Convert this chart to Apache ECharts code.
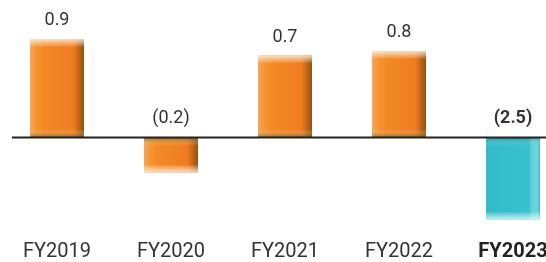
<!DOCTYPE html>
<html>
<head>
<meta charset="utf-8">
<script src="https://cdn.jsdelivr.net/npm/echarts@6/dist/echarts.min.js"></script>
<style>
  html, body { margin: 0; padding: 0; background: #fff; overflow: hidden; }
  #wrap { width: 546px; height: 262px; overflow: hidden; }
  #chart { width: 570px; height: 262px; }
</style>
</head>
<body>
<div id="wrap"><div id="chart"></div></div>
<script>
// 数据
const categories = ['FY2019', 'FY2020', 'FY2021', 'FY2022', 'FY2023']
const valueLabels = ['0.9', '(0.2)', '0.7', '0.8', '(2.5)']
// 图中柱子的长度（图示并非按比例绘制，按图片读取）
const barLengths = [0.9, -0.32, 0.75, 0.79, -0.75]
const highlightIndex = 4

const orangeFill = {
  type: 'linear', x: 0, y: 0, x2: 1, y2: 0,
  colorStops: [
    { offset: 0, color: '#f6a65a' },
    { offset: 0.12, color: '#f59530' },
    { offset: 0.25, color: '#f38a25' },
    { offset: 0.8, color: '#ef7c20' },
    { offset: 0.88, color: '#cf6a1a' },
    { offset: 1, color: '#8c5412' }
  ]
}
const tealFill = {
  type: 'linear', x: 0, y: 0, x2: 1, y2: 0,
  colorStops: [
    { offset: 0, color: '#33bcc7' },
    { offset: 0.8, color: '#37c1cc' },
    { offset: 0.84, color: '#62d0d8' },
    { offset: 0.95, color: '#6fd5dc' },
    { offset: 1, color: '#3cbcc6' }
  ]
}

// 斜面高光：顶部亮，底部暗（负值柱子反过来）
function bevel (len, isTeal) {
  const f = Math.min(0.35, 0.075 / Math.abs(len))
  const light = isTeal ? 'rgba(220,250,250,0.85)' : 'rgba(255,236,215,0.85)'
  const dark = isTeal ? 'rgba(20,90,95,0.45)' : 'rgba(90,80,0,0.6)'
  const clear = 'rgba(255,255,255,0)'
  const topCol = len > 0 ? light : dark
  const botCol = len > 0 ? dark : light
  return {
    type: 'linear', x: 0, y: 0, x2: 0, y2: 1,
    colorStops: [
      { offset: 0, color: topCol },
      { offset: f, color: clear },
      { offset: 1 - f, color: clear },
      { offset: 1, color: botCol }
    ]
  }
}

const chart = echarts.init(document.getElementById('chart'))

const option = {
  animation: false,
  grid: { left: 0, right: 0, top: 28, bottom: 21 },
  xAxis: {
    type: 'category',
    data: categories,
    axisLine: { show: false, onZero: false },
    axisTick: { show: false },
    axisLabel: {
      interval: 0,
      margin: 6,
      fontFamily: 'Roboto',
      fontSize: 20,
      color: '#333',
      formatter: (v, i) => i === highlightIndex ? '{b|' + v + '}' : v,
      rich: { b: { fontFamily: 'Roboto', fontSize: 20, fontWeight: 'bold', color: '#222' } }
    }
  },
  yAxis: {
    type: 'value',
    min: -0.9,
    max: 1,
    show: false,
    splitLine: { show: false }
  },
  series: [
    {
      type: 'bar',
      barWidth: 54,
      data: barLengths.map((v, i) => ({
        value: v,
        itemStyle: { color: i === highlightIndex ? tealFill : orangeFill },
        label: {
          show: true,
          position: 'top',
          distance: v > 0 ? 9 : 10,
          formatter: valueLabels[i],
          fontFamily: 'Roboto',
          fontSize: 18,
          fontWeight: i === highlightIndex ? 'bold' : 'normal',
          color: '#333'
        }
      })),
      z: 2
    },
    {
      type: 'bar',
      barWidth: 54,
      barGap: '-100%',
      silent: true,
      data: barLengths.map((v, i) => ({
        value: v,
        itemStyle: { color: bevel(v, i === highlightIndex) }
      })),
      z: 3
    }
  ]
}

chart.setOption(option)

// 零线：从左侧 12px 开始
const y0 = chart.convertToPixel({ yAxisIndex: 0 }, 0)
chart.setOption({
  graphic: [{
    type: 'line',
    z: 10,
    shape: { x1: 12, y1: y0, x2: 570, y2: y0 },
    style: { stroke: '#222', lineWidth: 2 }
  }]
})
</script>
</body>
</html>
